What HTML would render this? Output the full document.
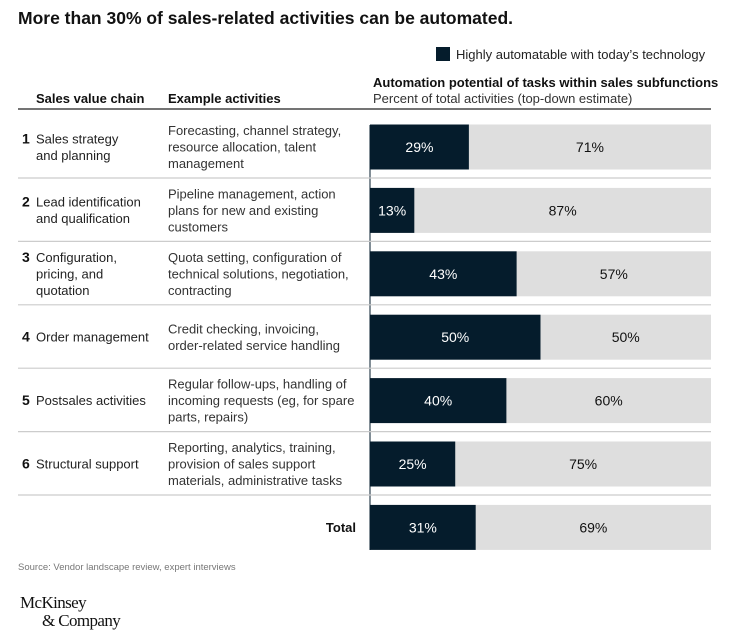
<!DOCTYPE html>
<html><head><meta charset="utf-8"><style>
body{margin:0;background:#fff;width:740px;height:643px;overflow:hidden;font-family:"Liberation Sans",sans-serif;}
svg{display:block}
</style></head><body>
<svg id="c" width="740" height="643" font-family="Liberation Sans, sans-serif">
<text x="18" y="24" font-size="17.5" font-weight="bold" fill="#111">More than 30% of sales-related activities can be automated.</text>
<rect x="436" y="47" width="14" height="14" fill="#051c2c"/>
<text x="456" y="59" font-size="13" fill="#222">Highly automatable with today’s technology</text>
<text x="373" y="87" font-size="13" font-weight="bold" fill="#111">Automation potential of tasks within sales subfunctions</text>
<text x="373" y="103" font-size="13" fill="#333">Percent of total activities (top-down estimate)</text>
<text x="36" y="103" font-size="13" font-weight="bold" fill="#111">Sales value chain</text>
<text x="168" y="103" font-size="13" font-weight="bold" fill="#111">Example activities</text>
<line x1="18" y1="109" x2="711" y2="109" stroke="#222" stroke-width="1.3"/>
<line x1="370" y1="125" x2="370" y2="550" stroke="#051c2c" stroke-width="1"/>
<g id="rows"></g>
<text x="18" y="570" font-size="9.5" fill="#777">Source: Vendor landscape review, expert interviews</text>
<text x="20" y="608" font-size="17" font-family="Liberation Serif, serif" fill="#111" letter-spacing="-0.6">McKinsey</text>
<text x="42" y="626" font-size="17" font-family="Liberation Serif, serif" fill="#111" letter-spacing="-0.6">&amp; Company</text>
</svg>
<script>
const categories=["Sales strategy|and planning","Lead identification|and qualification","Configuration,|pricing, and|quotation","Order management","Postsales activities","Structural support","Total"];
const activities=["Forecasting, channel strategy,|resource allocation, talent|management","Pipeline management, action|plans for new and existing|customers","Quota setting, configuration of|technical solutions, negotiation,|contracting","Credit checking, invoicing,|order-related service handling","Regular follow-ups, handling of|incoming requests (eg, for spare|parts, repairs)","Reporting, analytics, training,|provision of sales support|materials, administrative tasks",""];
const automatable=[29,13,43,50,40,25,31];
const NS="http://www.w3.org/2000/svg";
const g=document.getElementById('rows');
const x0=370,x1=711;
const xs=v=>x0+(x1-x0)*v/100;
const rowY=i=>147+i*63.4;
function mk(t,a){const e=document.createElementNS(NS,t);for(const k in a)e.setAttribute(k,a[k]);g.appendChild(e);return e;}
function lines(x,cy,s,opt){const ls=s.split('|');const lh=16.5;const y0=cy-(ls.length-1)*lh/2+4.5;
 const t=mk('text',Object.assign({x:x,y:y0,'font-size':13,fill:'#222'},opt||{}));
 ls.forEach((l,j)=>{const sp=document.createElementNS(NS,'tspan');sp.setAttribute('x',x);sp.setAttribute('y',y0+j*lh);sp.textContent=l;t.appendChild(sp);});return t;}
categories.forEach((c,i)=>{
 const cy=rowY(i);const total=i===categories.length-1;
 if(!total){
  const n=mk('text',{x:22,y:cy-(c.split('|').length-1)*8.25+4.5,'font-size':14,'font-weight':'bold',fill:'#111'});n.textContent=String(i+1);
  
  
  const l=lines(36,cy,c);
  
  
  const a=lines(168,cy,activities[i],{fill:'#333'});
  
  
  const sep=mk('line',{x1:18,x2:711,y1:cy+31,y2:cy+31,stroke:'#ccc','stroke-width':1.2});
  
  
 } else {
  const l=mk('text',{x:356,y:cy+4.5,'font-size':13,'font-weight':'bold',fill:'#111','text-anchor':'end'});l.textContent='Total';
  
  
 }
 const v=automatable[i];
 const bg=mk('rect',{x:xs(v),y:cy-22.5,width:xs(100)-xs(v),height:45,fill:'#dedede'});
 
 
 const b=mk('rect',{x:xs(0),y:cy-22.5,width:xs(v)-xs(0),height:45,fill:'#051c2c'});
 
 
 const t1=mk('text',{x:(xs(0)+xs(v))/2,y:cy+5,'font-size':14,fill:'#fff','text-anchor':'middle'});t1.textContent=v+'%';
 
 
 const t2=mk('text',{x:(xs(v)+xs(100))/2,y:cy+5,'font-size':14,fill:'#111','text-anchor':'middle'});t2.textContent=(100-v)+'%';
 
 
});
</script>
</body></html>
